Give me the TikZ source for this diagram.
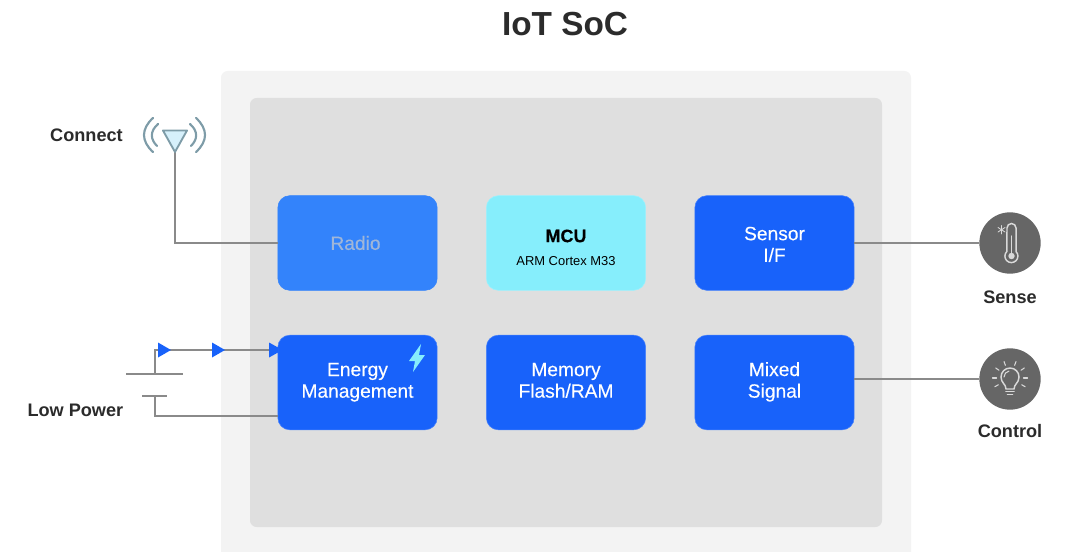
\documentclass[tikz,border=0pt]{standalone}
\usepackage{fontspec}
\setmainfont{Liberation Sans}
\newfontfamily\medfont[FakeBold=0.25]{Liberation Sans}
\usetikzlibrary{calc}
\definecolor{outerbg}{HTML}{F3F3F3}
\definecolor{innerbg}{HTML}{DFDFDF}
\definecolor{blk}{HTML}{1862FA}
\definecolor{radio}{HTML}{3383FB}
\definecolor{mcu}{HTML}{86EEFC}
\definecolor{wire}{HTML}{8A8A8A}
\definecolor{ink}{HTML}{2B2B2B}
\definecolor{disc}{HTML}{666666}
\definecolor{ant}{HTML}{7E9CA8}
\definecolor{antfill}{HTML}{D6F0FB}
\newcommand{\twolines}[4]{\rule{0pt}{#1}#3\\#4\rule[-#2]{0pt}{#2}}
\tikzset{
  px/.style={x=0.75pt,y=-0.75pt},
  blockbox/.style={rounded corners=9pt,minimum width=119.5pt,minimum height=71pt,inner sep=0pt,align=center,text=white,font=\medfont\fontsize{14.4}{16.2}\selectfont,fill=blk,draw=blk!80!white,line width=0.4pt},
  lbl/.style={font=\bfseries\fontsize{13.6}{15}\selectfont,text=ink,inner sep=0pt},
  wireline/.style={draw=wire,line width=1.1pt},
  tip/.style={fill=blk,draw=none},
  antline/.style={draw=ant,line width=1.6pt,line cap=round},
  iconline/.style={draw=white!85!black,line width=0.8pt,line cap=round},
}
\begin{document}
\begin{tikzpicture}[px]
\useasboundingbox (0,0) rectangle (1066,552);
\fill[outerbg,rounded corners=5pt] (221,71) rectangle (911,570);
\fill[innerbg,rounded corners=5pt] (250,98) rectangle (882,527);
\node[font=\bfseries\fontsize{25}{30}\selectfont,text=ink,inner sep=0pt] (title) at (565,24) {IoT SoC};

\node[blockbox,fill=radio,draw=radio,text=white!60!radio!70!gray] (radio) at (357.5,243) {Radio\hspace*{3pt}};
\node[blockbox,fill=mcu,draw=mcu!80!white,text=black] (mcu) at (566,243) {\rule{0pt}{16pt}\bfseries\fontsize{13.5}{17}\selectfont MCU\\[1pt]\normalfont\fontsize{9.7}{12}\selectfont ARM Cortex M33};
\node[blockbox] (sensor) at (774.5,243) {\twolines{15pt}{3pt}{Sensor}{I/F}};
\node[blockbox] (energy) at (357.5,382.5) {\twolines{11pt}{4.5pt}{Energy}{Management}};
\node[blockbox] (memory) at (566,382.5) {\twolines{11pt}{4.5pt}{Memory}{Flash/RAM}};
\node[blockbox] (mixed) at (774.5,382.5) {\twolines{11pt}{4.5pt}{Mixed}{Signal}};

% lightning bolt
\fill[mcu] (421,344) -- (409,361) -- (415,361) -- (413,372) -- (425,355) -- (419,355) -- cycle;

% antenna
\coordinate (anttip) at (175,152);
\draw[wireline] (anttip) |- (radio.west);
\path[fill=antfill,draw=ant,line width=1.4pt,line join=round] (163,130.5) -- (187,130.5) -- (175,152) -- cycle;
\draw[antline] (153,118) .. controls (141,129) and (141,141) .. (153,152);
\draw[antline] (196,118) .. controls (208,129) and (208,141) .. (196,152);
\draw[antline] (158,124) .. controls (150,131) and (150,139) .. (157,146);
\draw[antline] (190,124) .. controls (198,131) and (198,139) .. (191,146);
\node[lbl,anchor=east] (connect) at (123,135) {Connect};

% battery
\coordinate (batplus) at (155,374);
\coordinate (batminus) at (155,395.5);
\coordinate (ewest1) at (energy.west |- 0,350);
\coordinate (ewest2) at (energy.west |- 0,416);
\draw[wireline] (batplus) |- (ewest1);
\draw[wireline] (batminus) |- (ewest2);
\draw[wireline,line width=1.5pt] (126,374) -- (183,374);
\draw[wireline,line width=1.5pt] (142,395.5) -- (167,395.5);
\foreach \x in {158,212}{
  \fill[tip] (\x,342.5) -- (\x+13,350) -- (\x,357.5) -- cycle;
}
\fill[tip] (269,342.5) -- (278,347.5) -- (278,352.5) -- (269,357.5) -- cycle;
\node[lbl,anchor=east] (lowpower) at (123.5,410) {Low Power};

% right side discs
\node[circle,fill=disc,minimum size=46pt,inner sep=0pt] (sense) at (1010,243) {};
\node[circle,fill=disc,minimum size=46pt,inner sep=0pt] (control) at (1010,379) {};
\draw[wireline] (sensor.east) -- (sense.west);
\draw[wireline] (mixed.east |- control) -- (control.west);
\node[lbl] (senselbl) at (1010,297.5) {Sense};
\node[lbl] (controllbl) at (1010,431) {Control};

% thermometer
\draw[iconline,line width=1.1pt] (1007,228) arc[start angle=180,end angle=360,radius=4.5] -- (1016,251.5)
  arc[start angle=-45,end angle=225,radius=6.5] -- cycle;
\fill[white!85!black] (1011.5,256) circle (3.2);
\draw[iconline] (1011.5,236) -- (1011.5,254);
\draw[iconline,line width=0.6pt] (998,227.5) -- (1005,232) (998,232) -- (1005,227.5) (1001.5,225.5) -- (1001.5,234);

% bulb
\draw[iconline,line width=1.1pt] (1006,389) .. controls (1006,384) and (1001,383) .. (1001,377)
  arc[start angle=180,end angle=360,radius=9] .. controls (1019,383) and (1014,384) .. (1014,389) -- cycle;
\draw[iconline,line width=1.2pt] (1006,391.5) -- (1014,391.5);
\draw[iconline,line width=1.2pt] (1007.5,394.5) -- (1012.5,394.5);
\draw[iconline] (1004,377) arc[start angle=180,end angle=260,radius=6];
\foreach \a in {0,35,70,110,145,180,210,-30}{
  \draw[iconline] ($(1010,378)+(\a:13.5 and -13.5)$) -- ($(1010,378)+(\a:17.5 and -17.5)$);
}
\end{tikzpicture}
\end{document}
